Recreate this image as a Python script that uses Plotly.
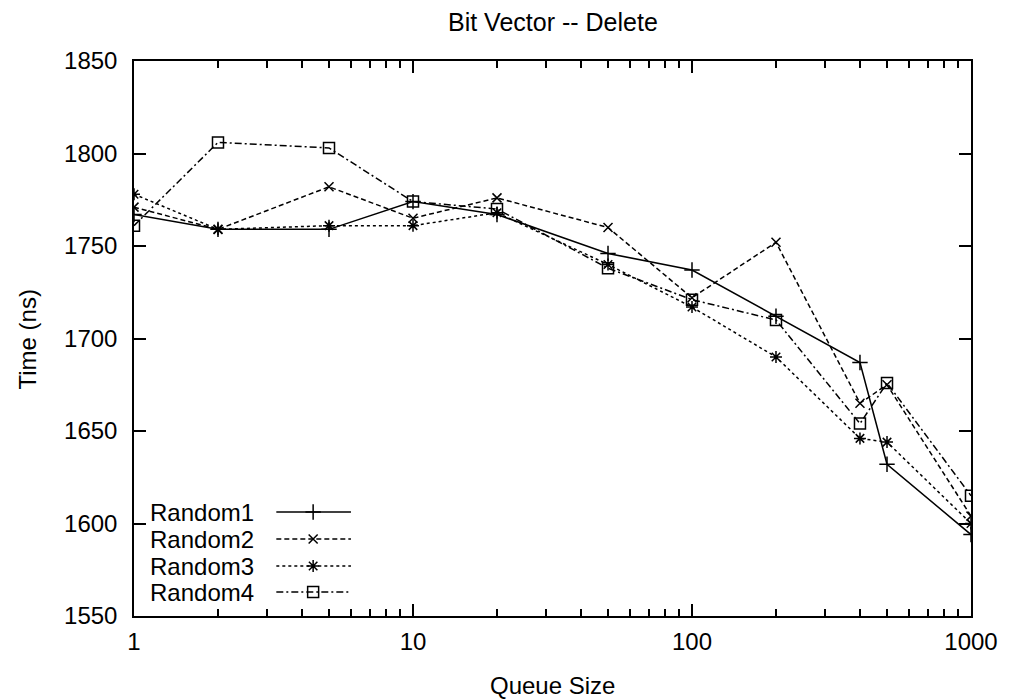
import plotly.graph_objects as go

# Queue sizes and measured delete times (ns)
queue_size = [1, 2, 5, 10, 20, 50, 100, 200, 400, 500, 1000]
random1 = [1767, 1759, 1759, 1774, 1767, 1746, 1737, 1712, 1687, 1632, 1594]
random2 = [1771, 1759, 1782, 1765, 1776, 1760, 1722, 1752, 1665, 1675, 1604]
random3 = [1778, 1759, 1761, 1761, 1768, 1740, 1717, 1690, 1646, 1644, 1600]
random4 = [1761, 1806, 1803, 1774, 1770, 1738, 1721, 1710, 1654, 1676, 1615]

series_names = ["Random1", "Random2", "Random3", "Random4"]
x_ticks = [1, 10, 100, 1000]
y_ticks = [1550, 1600, 1650, 1700, 1750, 1800, 1850]

FONT = "Liberation Sans, Arial, Helvetica, sans-serif"
W, H = 1010, 700
ML, MR, MT, MB = 134, 35, 61, 84

styles = [
    dict(dash="solid", symbol="cross-thin-open", size=11),
    dict(dash="5px,3px", symbol="x-thin-open", size=9),
    dict(dash="3px,3px", symbol="asterisk-open", size=10),
    dict(dash="7px,3px,2px,3px", symbol="square-open", size=11),
]

fig = go.Figure()
for name, ys, st in zip(series_names, [random1, random2, random3, random4], styles):
    fig.add_trace(go.Scatter(
        x=queue_size, y=ys, name=name, mode="lines+markers",
        line=dict(color="black", width=1.5, dash=st["dash"]),
        marker=dict(symbol=st["symbol"], size=st["size"], color="black",
                    line=dict(color="black", width=1.5)),
        showlegend=False,
    ))

# Key in the lower-left corner: label on the left, sample on the right
pw = W - ML - MR
ph = H - MT - MB
def px_x(p):
    return (p - ML) / pw
def px_y(p):
    return (H - MB - p) / ph

rows = [512, 539, 566, 592]
for name, st, ry in zip(series_names, styles, rows):
    yy = px_y(ry)
    fig.add_annotation(x=px_x(148), y=yy, xref="paper", yref="paper",
                       text=name, showarrow=False, xanchor="left", yanchor="middle",
                       font=dict(family=FONT, size=24, color="black"))
    fig.add_trace(go.Scatter(
        x=[px_x(277), px_x(352)], y=[yy, yy], xaxis="x2", yaxis="y2",
        mode="lines", line=dict(color="black", width=1.5, dash=st["dash"]),
        showlegend=False, hoverinfo="skip"))
    fig.add_trace(go.Scatter(
        x=[px_x(314)], y=[yy], xaxis="x2", yaxis="y2", mode="markers",
        marker=dict(symbol=st["symbol"], size=st["size"], color="black",
                    line=dict(color="black", width=1.5)),
        showlegend=False, hoverinfo="skip"))

axis_common = dict(
    showline=True, linecolor="black", linewidth=1.5, mirror="allticks",
    ticks="inside", tickcolor="black", tickwidth=1.5, ticklen=12,
    showgrid=False, zeroline=False,
    tickfont=dict(family=FONT, size=24, color="black"),
)

fig.update_layout(
    width=W, height=H,
    margin=dict(l=ML, r=MR, t=MT, b=MB),
    paper_bgcolor="white", plot_bgcolor="white",
    xaxis=dict(type="log", range=[0, 3], tickvals=x_ticks,
               ticktext=[str(v) for v in x_ticks],
               minor=dict(ticks="inside", ticklen=7, tickcolor="black",
                          tickwidth=1.5, dtick="D1", showgrid=False),
               ticklabelstandoff=3, **axis_common),
    yaxis=dict(range=[1550, 1850], tickvals=y_ticks,
               ticklabelstandoff=10, **axis_common),
    xaxis2=dict(overlaying="x", range=[0, 1], visible=False, fixedrange=True),
    yaxis2=dict(overlaying="y", range=[0, 1], visible=False, fixedrange=True),
    annotations=list(fig.layout.annotations) + [
        dict(text="Bit Vector -- Delete", x=0.5, y=px_y(22), xref="paper", yref="paper",
             showarrow=False, xanchor="center", yanchor="middle",
             font=dict(family=FONT, size=25, color="black")),
        dict(text="Queue Size", x=0.5, y=px_y(685), xref="paper", yref="paper",
             showarrow=False, xanchor="center", yanchor="middle",
             font=dict(family=FONT, size=24, color="black")),
        dict(text="Time (ns)", x=px_x(26), y=px_y(340), xref="paper", yref="paper",
             showarrow=False, xanchor="center", yanchor="middle", textangle=-90,
             font=dict(family=FONT, size=24, color="black")),
    ],
)

fig.write_html("out.html")
